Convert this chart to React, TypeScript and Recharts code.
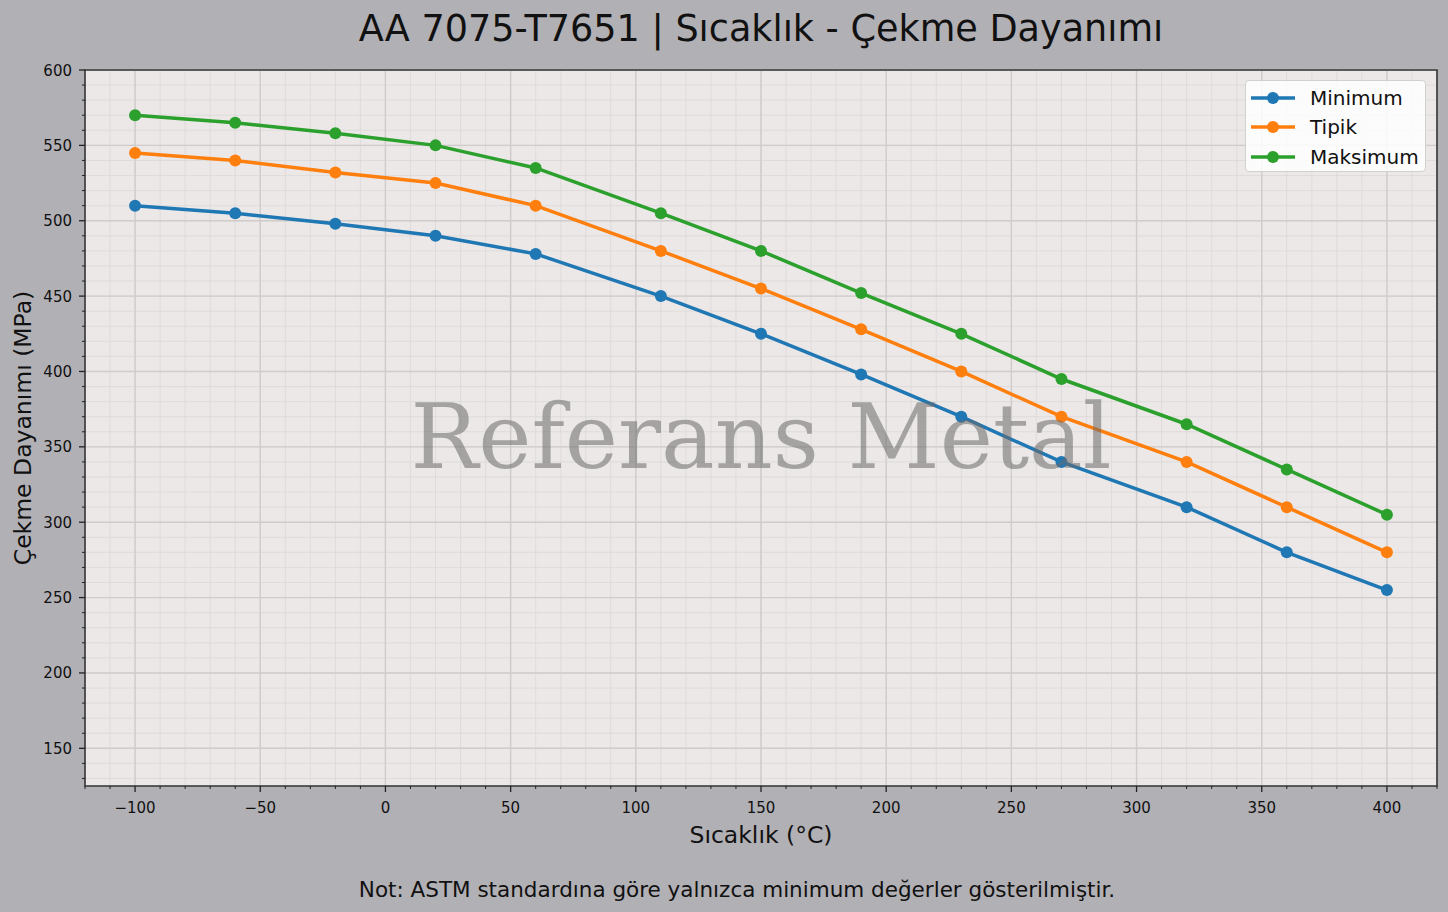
import {
  LineChart,
  Line,
  XAxis,
  YAxis,
  CartesianGrid,
  ReferenceArea,
  Legend,
} from "recharts";

const temperatures = [-100, -60, -20, 20, 60, 110, 150, 190, 230, 270, 320, 360, 400];
const minimumValues = [510, 505, 498, 490, 478, 450, 425, 398, 370, 340, 310, 280, 255];
const typicalValues = [545, 540, 532, 525, 510, 480, 455, 428, 400, 370, 340, 310, 280];
const maximumValues = [570, 565, 558, 550, 535, 505, 480, 452, 425, 395, 365, 335, 305];

const xMajorTicks = [-100, -50, 0, 50, 100, 150, 200, 250, 300, 350, 400];
const yMajorTicks = [150, 200, 250, 300, 350, 400, 450, 500, 550, 600];

const range = (from: number, to: number, step: number) => {
  const out: number[] = [];
  for (let v = from; v <= to; v += step) out.push(v);
  return out;
};
const xMinorTicks = range(-120, 420, 10);
const yMinorTicks = range(130, 600, 10);

const FONT = "'DejaVu Sans', sans-serif";
const OUTER_BG = "#b1b0b5";
const PLOT_BG = "#ebe8e7";

const data = temperatures.map((t, i) => ({
  t,
  Minimum: minimumValues[i],
  Tipik: typicalValues[i],
  Maksimum: maximumValues[i],
}));

const series = [
  { key: "Minimum", color: "#1f77b4" },
  { key: "Tipik", color: "#ff7f0e" },
  { key: "Maksimum", color: "#2ca02c" },
];
const seriesOrder = series.map((s) => s.key);

const fmt = (v: number) => (v < 0 ? `\u2212${Math.abs(v)}` : `${v}`);

function XTick({ x, y, payload }: any) {
  const major = xMajorTicks.includes(payload.value);
  return (
    <g>
      <line
        x1={x}
        x2={x}
        y1={y}
        y2={y + (major ? 6 : 3)}
        stroke="#222"
        strokeWidth={major ? 1.3 : 1}
      />
      {major && (
        <text x={x} y={y + 27} textAnchor="middle" fontSize={15} fill="#111" fontFamily={FONT}>
          {fmt(payload.value)}
        </text>
      )}
    </g>
  );
}

function YTick({ x, y, payload }: any) {
  const major = yMajorTicks.includes(payload.value);
  return (
    <g>
      <line
        x1={x - (major ? 6 : 3)}
        x2={x}
        y1={y}
        y2={y}
        stroke="#222"
        strokeWidth={major ? 1.3 : 1}
      />
      {major && (
        <text x={x - 13} y={y + 5.5} textAnchor="end" fontSize={15} fill="#111" fontFamily={FONT}>
          {fmt(payload.value)}
        </text>
      )}
    </g>
  );
}

function LegendBox({ payload }: any) {
  const items = [...(payload || [])].sort(
    (a: any, b: any) => seriesOrder.indexOf(a.value) - seriesOrder.indexOf(b.value)
  );
  return (
    <div
      style={{
        background: "rgba(255,255,255,0.85)",
        border: "1px solid #d0d0d0",
        borderRadius: 4,
        padding: "2px 6px 1px 5px",
        fontFamily: FONT,
        fontSize: 20,
        color: "#111",
        boxSizing: "border-box",
        width: 181,
        height: 92,
      }}
    >
      {items.map((item: any) => (
        <div
          key={item.value}
          style={{ display: "flex", alignItems: "center", height: 29.5 }}
        >
          <svg width={44} height={14}>
            <line x1={0} x2={44} y1={7} y2={7} stroke={item.color} strokeWidth={3.5} />
            <circle cx={22} cy={7} r={6} fill={item.color} />
          </svg>
          <span style={{ marginLeft: 15 }}>{item.value}</span>
        </div>
      ))}
    </div>
  );
}

export default function App() {
  return (
    <div
      style={{
        position: "absolute",
        left: 0,
        top: 0,
        width: 1448,
        height: 912,
        background: OUTER_BG,
        overflow: "hidden",
      }}
    >
      <LineChart
        width={1448}
        height={912}
        data={data}
        margin={{ top: 70, right: 11, bottom: 0, left: 0 }}
      >
        <CartesianGrid
          fill={PLOT_BG}
          stroke="#dcd8d8"
          strokeWidth={0.8}
          verticalValues={xMinorTicks}
          horizontalValues={yMinorTicks}
        />
        <CartesianGrid
          stroke="#d0cccc"
          strokeWidth={1.4}
          verticalValues={xMajorTicks}
          horizontalValues={yMajorTicks}
        />
        <XAxis
          dataKey="t"
          type="number"
          domain={[-120, 420]}
          allowDataOverflow
          ticks={xMinorTicks}
          interval={0}
          tick={<XTick />}
          tickLine={false}
          axisLine={false}
          tickSize={0}
          tickMargin={0}
          height={126}
        />
        <YAxis
          type="number"
          domain={[125, 600]}
          allowDataOverflow
          ticks={yMinorTicks}
          interval={0}
          tick={<YTick />}
          tickLine={false}
          axisLine={false}
          tickSize={0}
          tickMargin={0}
          width={85}
        />
        <ReferenceArea
          x1={-120}
          x2={420}
          y1={125}
          y2={600}
          fill="none"
          fillOpacity={0}
          stroke="#333"
          strokeWidth={1.6}
        />
        {series.map((s) => (
          <Line
            key={s.key}
            dataKey={s.key}
            stroke={s.color}
            strokeWidth={3.5}
            dot={{ r: 6, fill: s.color, stroke: s.color, strokeWidth: 0 }}
            activeDot={false}
            isAnimationActive={false}
          />
        ))}
        <Legend
          layout="vertical"
          align="center"
          verticalAlign="middle"
          content={<LegendBox />}
          wrapperStyle={{ position: "absolute", top: 80, left: 1245, width: 181, height: 92 }}
        />
      </LineChart>
      <svg
        width={1448}
        height={912}
        style={{ position: "absolute", left: 0, top: 0, pointerEvents: "none" }}
      >
        <text x={761} y={41} textAnchor="middle" fontSize={36.6} fontFamily={FONT} fill="#111">
          AA 7075-T7651 | Sıcaklık - Çekme Dayanımı
        </text>
        <text x={761} y={843} textAnchor="middle" fontSize={23.5} fontFamily={FONT} fill="#111">
          Sıcaklık (°C)
        </text>
        <text
          transform="translate(31,428) rotate(-90)"
          textAnchor="middle"
          fontSize={23.5}
          fontFamily={FONT}
          fill="#111"
        >
          Çekme Dayanımı (MPa)
        </text>
        <text x={737} y={897} textAnchor="middle" fontSize={21.5} fontFamily={FONT} fill="#111">
          Not: ASTM standardına göre yalnızca minimum değerler gösterilmiştir.
        </text>
        <text
          x={761}
          y={468}
          textAnchor="middle"
          fontSize={90}
          fontFamily="'DejaVu Serif', serif"
          fill="rgba(105,105,105,0.55)"
        >
          Referans Metal
        </text>
      </svg>
    </div>
  );
}
